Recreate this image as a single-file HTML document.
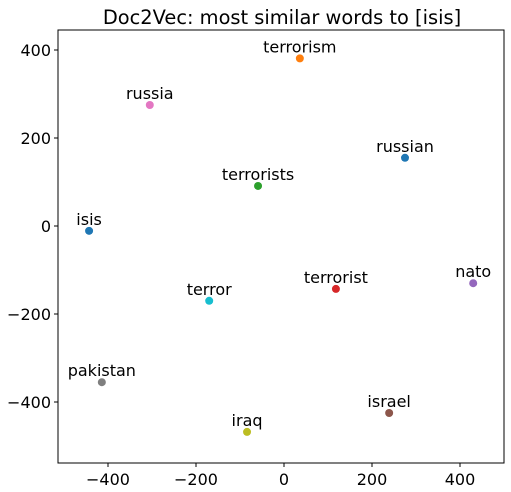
<!DOCTYPE html>
<html><head><meta charset="utf-8"><style>body{margin:0;background:#fff}svg{display:block;font-family:"DejaVu Sans","Liberation Sans",sans-serif}</style></head>
<body>
<svg id="c" width="511" height="492"></svg>
<script>
const words=["isis","terrorism","terrorists","terrorist","nato","israel","russia","pakistan","iraq","terror","russian"];
const xs=[-443,36,-59,118,430,239,-305,-414,-84,-170,275];
const ys=[-11,381,91,-143,-130,-425,275,-355,-468,-170,155];
const colors=["#1f77b4","#ff7f0e","#2ca02c","#d62728","#9467bd","#8c564b","#e377c2","#7f7f7f","#bcbd22","#17becf","#1f77b4"];
const xticks=[-400,-200,0,200,400];
const yticks=[400,200,0,-200,-400];
const L=58,R=504,T=30,B=463;
const sx=v=>284+v*0.44, sy=v=>226-v*0.44;
const svg=document.getElementById('c');const NS='http://www.w3.org/2000/svg';
function mk(t,a,txt){const e=document.createElementNS(NS,t);for(const k in a)e.setAttribute(k,a[k]);if(txt!=null)e.textContent=txt;svg.appendChild(e);return e;}
let e=mk('text',{x:282,y:24,'text-anchor':'middle','font-size':19.4},'Doc2Vec: most similar words to [isis]');

e=mk('rect',{x:L,y:T,width:R-L,height:B-T,fill:'none',stroke:'#000','stroke-width':1});

xticks.forEach(v=>{const x=sx(v);
e=mk('line',{x1:x,x2:x,y1:B,y2:B+4,stroke:'#000'});
e=mk('text',{x:x,y:B+22,'text-anchor':'middle','font-size':16},String(v).replace('-','\u2212'));});
yticks.forEach(v=>{const y=sy(v);
e=mk('line',{x1:L-4,x2:L,y1:y,y2:y,stroke:'#000'});
e=mk('text',{x:L-7,y:y+6,'text-anchor':'end','font-size':16},String(v).replace('-','\u2212'));});
words.forEach((w,i)=>{const x=sx(xs[i]),y=sy(ys[i]);
e=mk('circle',{cx:x,cy:y,r:4,fill:colors[i]});
e=mk('text',{x:x,y:y-6,'text-anchor':'middle','font-size':16},w);});
</script>
</body></html>
